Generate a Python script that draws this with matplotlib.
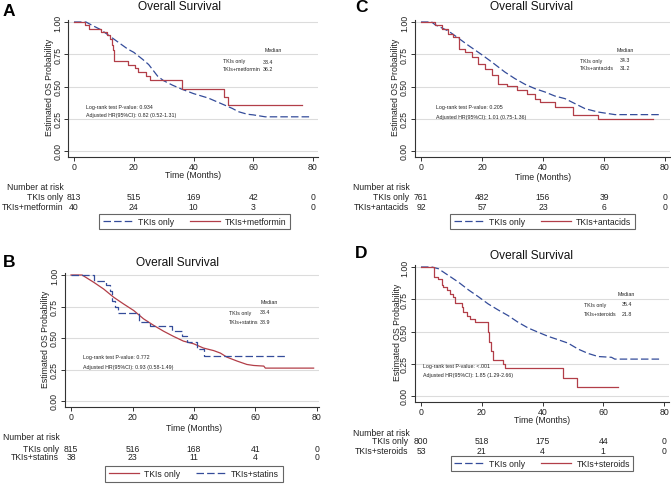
import matplotlib
matplotlib.use('Agg')
import matplotlib.pyplot as plt
from matplotlib.transforms import blended_transform_factory

plt.rcParams['font.family'] = ['Liberation Sans', 'DejaVu Sans']

W, H = 671, 485
BLUE = '#344c9a'
RED = '#b23e48'

# ---------------- data ----------------
x_ticks = [0, 20, 40, 60, 80]
y_ticks = [0.0, 0.25, 0.5, 0.75, 1.0]
y_ticklabels = ['0.00', '0.25', '0.50', '0.75', '1.00']

# Panel A
A_t_only = [0, 4, 6, 9, 12, 15, 18, 20, 23, 25, 28, 30, 33, 36, 40, 45, 50, 53, 55, 58, 60, 64, 79]
A_s_only = [1, 1, .975, .94, .89, .84, .79, .765, .71, .67, .58, .545, .51, .48, .445, .41, .36, .33, .305, .285, .28, .265, .265]
A_t_drug = [0, 3.7, 5.1, 9.2, 10.9, 12.0, 12.6, 13.1, 13.5, 18.2, 20.4, 21.5, 24.0, 25.4, 36.2, 50.1, 51.4, 76.4]
A_s_drug = [1.0, .974, .948, .922, .896, .87, .82, .78, .70, .67, .64, .615, .584, .553, .48, .416, .356, .356]
A_risk_only = [813, 515, 169, 42, 0]
A_risk_drug = [40, 24, 10, 3, 0]
A_drug = 'TKIs+metformin'
A_median_only, A_median_drug = '33.4', '36.2'
A_p = 'Log-rank test P-value: 0.934'
A_hr = 'Adjusted HR(95%CI): 0.82 (0.52-1.31)'

# Panel B
B_t_only = [0, 3.6, 7.4, 10.6, 13.9, 17.1, 20.4, 23.6, 26.9, 30.1, 33.4, 36.6, 39.9, 43.1, 46.4, 48.6, 50.7, 54, 57.2, 59.4, 62.7, 63.2, 78.9]
B_s_only = [1, 1, .942, .889, .823, .77, .718, .652, .60, .554, .512, .475, .454, .42, .40, .38, .348, .317, .29, .282, .277, .261, .261]
B_t_drug = [0, 7.4, 11.5, 12.6, 13.3, 14.4, 15.2, 22.0, 25.8, 32.8, 36.1, 37.7, 41.0, 43.1, 69.7]
B_s_drug = [1, .95, .92, .87, .79, .744, .70, .625, .594, .554, .512, .467, .414, .354, .354]
B_risk_only = [815, 516, 168, 41, 0]
B_risk_drug = [38, 23, 11, 4, 0]
B_drug = 'TKIs+statins'
B_median_only, B_median_drug = '33.4', '38.9'
B_p = 'Log-rank test P-value: 0.772'
B_hr = 'Adjusted HR(95%CI): 0.93 (0.58-1.49)'

# Panel C
C_t_only = [0, 3.5, 4.6, 9.0, 12.2, 15.5, 19.9, 23.2, 27.5, 30.8, 34.1, 37.4, 40.7, 43.9, 47.2, 50.5, 53.8, 58.1, 63.6, 78.9]
C_s_only = [1, 1, .979, .93, .876, .819, .747, .69, .612, .561, .517, .483, .457, .426, .406, .367, .328, .302, .282, .282]
C_t_drug = [0, 3.5, 4.6, 6.8, 9.0, 10.6, 12.5, 14.4, 16.6, 18.8, 21.0, 23.2, 25.4, 28.1, 31.4, 34.6, 37.4, 39.0, 43.9, 49.9, 58.1, 76.2]
C_s_drug = [1, 1, .974, .948, .91, .884, .793, .767, .729, .677, .638, .587, .522, .504, .47, .444, .406, .38, .341, .282, .245, .245]
C_risk_only = [761, 482, 156, 39, 0]
C_risk_drug = [92, 57, 23, 6, 0]
C_drug = 'TKIs+antacids'
C_median_only, C_median_drug = '34.3', '31.2'
C_p = 'Log-rank test P-value: 0.205'
C_hr = 'Adjusted HR(95%CI): 1.01 (0.75-1.36)'

# Panel D
D_t_only = [0, 3.5, 5.7, 9.0, 12.3, 15.6, 18.8, 22.1, 25.4, 28.7, 32.0, 35.3, 38.6, 41.9, 45.2, 48.4, 51.7, 55.0, 58.3, 62.7, 63.8, 79.1]
D_s_only = [1, 1, .987, .935, .883, .823, .771, .714, .667, .623, .571, .527, .494, .462, .436, .41, .364, .33, .306, .30, .286, .286]
D_t_drug = [0, 4.1, 4.4, 5.7, 6.8, 7.3, 8.4, 9.5, 10.6, 11.2, 13.4, 13.9, 15.0, 16.1, 17.8, 22.1, 22.5, 23.0, 23.8, 27.1, 27.8, 46.8, 51.5, 64.7]
D_s_drug = [1, 1, .922, .909, .857, .844, .818, .792, .766, .719, .688, .649, .623, .597, .571, .494, .416, .351, .278, .247, .216, .143, .073, .073]
D_risk_only = [800, 518, 175, 44, 0]
D_risk_drug = [53, 21, 4, 1, 0]
D_drug = 'TKIs+steroids'
D_median_only, D_median_drug = '35.4', '21.8'
D_p = 'Log-rank test P-value: <.001'
D_hr = 'Adjusted HR(95%CI): 1.85 (1.29-2.66)'

# ---------------- layout (pixels) ----------------
layout = {
    'A': dict(x0=74, x80=313, y1=23, y0=152, xhi=81.7, letter=(9, 11), title=(180, 7),
              xlab=176, ylab=50, nar=(7, 188), rows=(198, 207), rowx=63,
              leg=(194.5, 222.5), med=(273, 51, 223, 263, 62, 70), lr=(86, 107, 116), only_first=True),
    'B': dict(x0=71, x80=317, y1=276, y0=402, xhi=80.7, letter=(9, 263), title=(178, 263),
              xlab=429, ylab=46, nar=(3, 438), rows=(450, 458), rowx=59,
              leg=(194, 475), med=(269, 303, 229, 260, 313, 323), lr=(83, 358, 368), only_first=False),
    'C': dict(x0=421, x80=665, y1=23, y0=152, xhi=81.7, letter=(362, 8), title=(532, 7),
              xlab=177, ylab=396, nar=(353, 188), rows=(198, 207), rowx=409,
              leg=(542.5, 222.5), med=(625, 51, 580, 620, 61, 69), lr=(436, 108, 117), only_first=True),
    'D': dict(x0=421, x80=664, y1=268, y0=397, xhi=81.7, letter=(361, 253), title=(532, 256),
              xlab=421, ylab=397, nar=(353, 433), rows=(442, 452), rowx=408,
              leg=(542, 464.5), med=(626, 295, 584, 622, 305, 314), lr=(423, 367, 376), only_first=True),
}

panels = {
    'A': (A_t_only, A_s_only, A_t_drug, A_s_drug, A_risk_only, A_risk_drug, A_drug, A_median_only, A_median_drug, A_p, A_hr),
    'B': (B_t_only, B_s_only, B_t_drug, B_s_drug, B_risk_only, B_risk_drug, B_drug, B_median_only, B_median_drug, B_p, B_hr),
    'C': (C_t_only, C_s_only, C_t_drug, C_s_drug, C_risk_only, C_risk_drug, C_drug, C_median_only, C_median_drug, C_p, C_hr),
    'D': (D_t_only, D_s_only, D_t_drug, D_s_drug, D_risk_only, D_risk_drug, D_drug, D_median_only, D_median_drug, D_p, D_hr),
}

fig = plt.figure(figsize=(W / 100, H / 100), dpi=100)
fig.patch.set_facecolor('white')


def fy(y):
    return 1 - y / H


def fx(x):
    return x / W


TXT = '#222222'
SMALL = 3.8
FS = 6.2

for key in ['A', 'B', 'C', 'D']:
    L = layout[key]
    t_only, s_only, t_drug, s_drug, r_only, r_drug, drug, m_only, m_drug, ptxt, hrtxt = panels[key]
    xlo, xhi, ylo, yhi = -2.0, L['xhi'], -0.045, 1.015
    s = (L['x80'] - L['x0']) / 80.0
    h = L['y0'] - L['y1']
    left = L['x0'] + xlo * s
    right = L['x0'] + xhi * s
    top = L['y1'] - (yhi - 1) * h
    bottom = L['y0'] - ylo * h
    ax = fig.add_axes([fx(left), fy(bottom), (right - left) / W, (bottom - top) / H])
    ax.set_xlim(xlo, xhi)
    ax.set_ylim(ylo, yhi)
    for sp in ['top', 'right']:
        ax.spines[sp].set_visible(False)
    for sp in ['left', 'bottom']:
        ax.spines[sp].set_color('#333333')
        ax.spines[sp].set_linewidth(0.8)
    ax.set_xticks(x_ticks)
    ax.set_yticks(y_ticks)
    ax.set_yticklabels(y_ticklabels)
    ax.tick_params(axis='both', length=3, width=0.7, color='#333333', labelsize=6.3, labelcolor=TXT, pad=1.2)
    ax.tick_params(axis='x', pad=0.6)
    ax.tick_params(axis='y', labelrotation=90)
    for lab in ax.get_yticklabels():
        lab.set_va('center')
    ax.set_xticklabels([str(v) for v in x_ticks])
    ax.grid(axis='y', color='#dcdcdc', linewidth=0.8)
    ax.set_axisbelow(True)

    if L['only_first']:
        l_only, = ax.plot(t_only, s_only, color=BLUE, lw=0.9, dashes=(6, 2.5))
        l_drug, = ax.step(t_drug, s_drug, where='post', color=RED, lw=0.9)
    else:
        l_only, = ax.plot(t_only, s_only, color=RED, lw=0.9)
        l_drug, = ax.step(t_drug, s_drug, where='post', color=BLUE, lw=0.9, dashes=(6, 2.5))
    handles = [l_only, l_drug]

    # axis labels (positioned in pixels)
    fig.text(fx(L['ylab']), fy((L['y1'] + L['y0']) / 2), 'Estimated OS Probability', rotation=90,
             ha='center', va='center', fontsize=6.3, color=TXT)
    tr = blended_transform_factory(ax.transData, fig.transFigure)
    ax.text(40, fy(L['xlab']), 'Time (Months)', transform=tr, ha='center', va='center', fontsize=6.3, color=TXT)
    fig.text(fx(L['title'][0]), fy(L['title'][1]), 'Overall Survival', ha='center', va='center',
             fontsize=8.6, color='#111111')
    fig.text(fx(L['letter'][0]), fy(L['letter'][1]), key, ha='center', va='center', fontsize=12.5,
             fontweight='bold', color='black')

    # number at risk table
    fig.text(fx(L['nar'][0]), fy(L['nar'][1]), 'Number at risk', ha='left', va='center', fontsize=FS, color=TXT)
    fig.text(fx(L['rowx']), fy(L['rows'][0]), 'TKIs only', ha='right', va='center', fontsize=FS, color=TXT)
    fig.text(fx(L['rowx']), fy(L['rows'][1]), drug, ha='right', va='center', fontsize=FS, color=TXT)
    for xt, n1, n2 in zip(x_ticks, r_only, r_drug):
        ax.text(xt, fy(L['rows'][0]), str(n1), transform=tr, ha='center', va='center', fontsize=FS, color=TXT)
        ax.text(xt, fy(L['rows'][1]), str(n2), transform=tr, ha='center', va='center', fontsize=FS, color=TXT)

    # median box
    mx, my, lx, vx, r1, r2 = L['med']
    fig.text(fx(mx), fy(my), 'Median', ha='center', va='center', fontsize=SMALL, color=TXT)
    fig.text(fx(lx), fy(r1), 'TKIs only', ha='left', va='center', fontsize=SMALL, color=TXT)
    fig.text(fx(vx), fy(r1), m_only, ha='left', va='center', fontsize=SMALL, color=TXT)
    fig.text(fx(lx), fy(r2), drug, ha='left', va='center', fontsize=SMALL, color=TXT)
    fig.text(fx(vx), fy(r2), m_drug, ha='left', va='center', fontsize=SMALL, color=TXT)
    px, py1, py2 = L['lr']
    fig.text(fx(px), fy(py1), ptxt, ha='left', va='center', fontsize=SMALL, color=TXT)
    fig.text(fx(px), fy(py2), hrtxt, ha='left', va='center', fontsize=SMALL, color=TXT)

    # legend
    lcx, lcy = L['leg']
    leg = fig.legend(handles, ['TKIs only', drug], loc='center', bbox_to_anchor=(fx(lcx), fy(lcy)),
                     ncol=2, fontsize=FS, handlelength=3.5, handletextpad=0.6, columnspacing=1.8,
                     borderpad=0.4, borderaxespad=0, frameon=True, fancybox=False, edgecolor='#666666',
                     framealpha=1)
    leg.get_frame().set_linewidth(0.8)
    for t in leg.get_texts():
        t.set_color(TXT)

fig.savefig('out.png', dpi=100, facecolor='white')
